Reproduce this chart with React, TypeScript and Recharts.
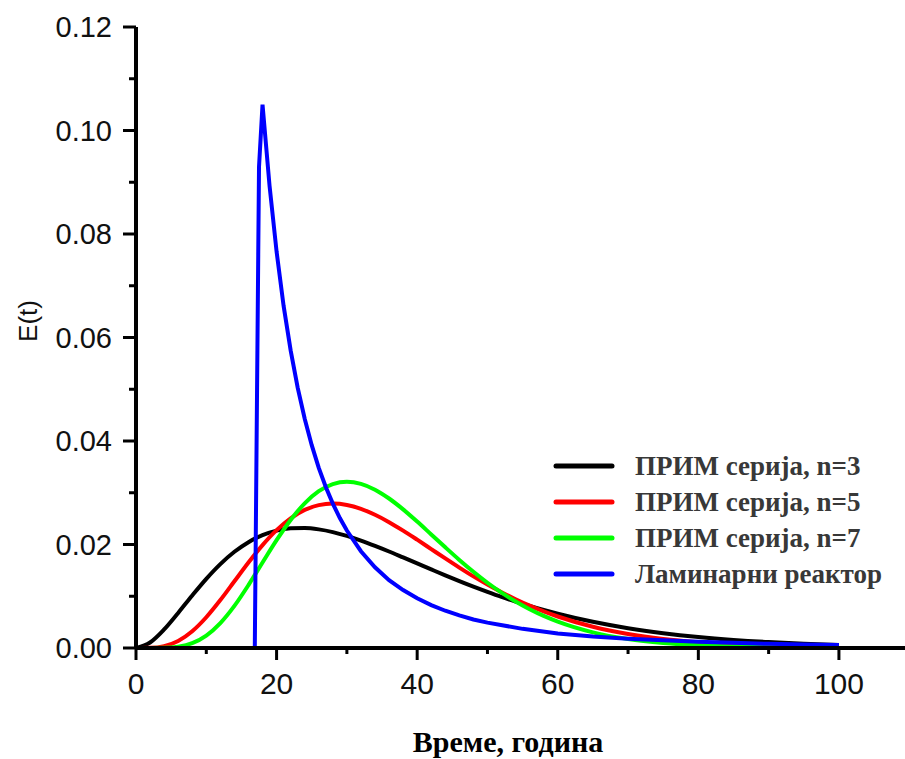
import { LineChart, Line, XAxis, YAxis, Legend, Label } from "recharts";

// time axis (hours) and E(t) values
const tTanks = [
  0, 2, 4, 6, 8, 10, 12, 14, 16, 18, 20, 22, 24, 26, 28, 30, 32, 34, 36, 38, 40,
  42, 44, 46, 48, 50, 52, 54, 56, 58, 60, 65, 70, 75, 80, 85, 90, 95, 100,
];
const eN3 = [
  0, 0.00106, 0.00358, 0.00678, 0.01015, 0.01336, 0.01621, 0.01859, 0.02045,
  0.02181, 0.02268, 0.02312, 0.02318, 0.02292, 0.0224, 0.02166, 0.02076,
  0.01974, 0.01865, 0.0175, 0.01634, 0.01518, 0.01403, 0.01292, 0.01185,
  0.01084, 0.00987, 0.00897, 0.00813, 0.00734, 0.00662, 0.00506, 0.00382,
  0.00286, 0.00212, 0.00156, 0.00114, 0.00083, 0.0006,
];
const eN5 = [
  0, 0.00003, 0.00036, 0.00136, 0.00324, 0.00594, 0.00926, 0.01289, 0.01652,
  0.01989, 0.02278, 0.02506, 0.02668, 0.02761, 0.02791, 0.02764, 0.02689,
  0.02575, 0.02432, 0.02269, 0.02093, 0.01912, 0.01731, 0.01554, 0.01384,
  0.01225, 0.01077, 0.00941, 0.00818, 0.00707, 0.00609, 0.00411, 0.0027,
  0.00174, 0.00111, 0.00069, 0.00042, 0.00026, 0.00016,
];
const eN7 = [
  0, 0.000001, 0.00003, 0.00025, 0.00094, 0.00241, 0.00482, 0.00814, 0.01216,
  0.01652, 0.02084, 0.02475, 0.02796, 0.0303, 0.03168, 0.03213, 0.03172,
  0.03059, 0.02889, 0.02679, 0.02443, 0.02194, 0.01945, 0.01702, 0.01473,
  0.01261, 0.0107, 0.00899, 0.0075, 0.0062, 0.0051, 0.00303, 0.00174, 0.00097,
  0.00052, 0.00028, 0.00014, 0.00007, 0.00004,
];

const tLaminar = [
  0, 16.9, 17.5, 18, 19, 20, 21, 22, 23, 24, 25, 26, 27, 28, 29, 30, 32, 34,
  36, 38, 40, 42, 44, 46, 48, 50, 55, 60, 65, 70, 75, 80, 85, 90, 95, 100,
];
const eLaminar = [
  0, 0, 0.093, 0.105, 0.0893, 0.0766, 0.0661, 0.0575, 0.0503, 0.0443, 0.0392,
  0.0348, 0.0311, 0.0279, 0.0251, 0.0227, 0.0187, 0.0156, 0.0131, 0.0112,
  0.0096, 0.0083, 0.0072, 0.0063, 0.0055, 0.0049, 0.0037, 0.0028, 0.0022,
  0.0018, 0.0015, 0.0012, 0.001, 0.0008, 0.0007, 0.0006,
];

const xTicks = [0, 10, 20, 30, 40, 50, 60, 70, 80, 90, 100];
const yTicks = [0, 0.01, 0.02, 0.03, 0.04, 0.05, 0.06, 0.07, 0.08, 0.09, 0.1, 0.11, 0.12];

const seriesNames = [
  "ПРИМ серија, n=3",
  "ПРИМ серија, n=5",
  "ПРИМ серија, n=7",
  "Ламинарни реактор",
];
const seriesColors = ["#000000", "#ff0000", "#00ff00", "#0000ff"];

const zip = (xs: number[], ys: number[]) => xs.map((t, i) => ({ t, e: ys[i] }));

const n3Data = zip(tTanks, eN3);
const n5Data = zip(tTanks, eN5);
const n7Data = zip(tTanks, eN7);
const laminarData = zip(tLaminar, eLaminar);

const sans = "'Liberation Sans', Arial, sans-serif";
const serif = "'Liberation Serif', 'Times New Roman', serif";

const YTick = (props: any) => {
  const { x, y, payload } = props;
  const v = payload.value as number;
  const major = Math.round(v * 100) % 2 === 0;
  return (
    <g>
      <line x1={x - (major ? 13 : 7)} x2={x} y1={y} y2={y} stroke="#000" strokeWidth={3} />
      {major && (
        <text x={x - 24} y={y} dy="0.36em" textAnchor="end" fontSize={29} fontFamily={sans} fill="#111">
          {v.toFixed(2)}
        </text>
      )}
    </g>
  );
};

const XTick = (props: any) => {
  const { x, y, payload } = props;
  const v = payload.value as number;
  const major = v % 20 === 0;
  return (
    <g>
      <line x1={x} x2={x} y1={y} y2={y + (major ? 12 : 6)} stroke="#000" strokeWidth={3} />
      {major && (
        <text x={x} y={y + 46} textAnchor="middle" fontSize={30} fontFamily={sans} fill="#111">
          {v}
        </text>
      )}
    </g>
  );
};

const LegendBox = (props: any) => {
  const items = [...(props.payload || [])].sort(
    (a: any, b: any) => seriesNames.indexOf(a.value) - seriesNames.indexOf(b.value)
  );
  return (
    <div>
      {items.map((it: any) => (
        <div key={it.value} style={{ display: "flex", alignItems: "center", height: 36 }}>
          <svg width={62} height={8} style={{ marginRight: 20 }}>
            <line x1={3} x2={59} y1={4} y2={4} stroke={it.color} strokeWidth={5} strokeLinecap="round" />
          </svg>
          <span
            style={{
              fontFamily: serif,
              fontWeight: "bold",
              fontSize: 27,
              color: "#383838",
              whiteSpace: "nowrap",
            }}
          >
            {it.value}
          </span>
        </div>
      ))}
    </div>
  );
};

export default function App() {
  return (
    <div style={{ position: "absolute", left: 0, top: 0, width: 905, height: 759, background: "#fff" }}>
      <LineChart width={905} height={759} margin={{ top: 27, right: 0, bottom: 0, left: 0 }}>
        <XAxis
          xAxisId="top"
          orientation="top"
          type="number"
          domain={[0, 109.4]}
          height={0}
          tick={false}
          tickLine={false}
          axisLine={{ stroke: "#000", strokeWidth: 4 }}
        />
        <XAxis
          dataKey="t"
          type="number"
          domain={[0, 109.4]}
          allowDataOverflow
          ticks={xTicks}
          interval={0}
          height={111}
          tickSize={0}
          tickMargin={0}
          tickLine={false}
          tick={<XTick />}
          axisLine={{ stroke: "#000", strokeWidth: 4 }}
        >
          <Label
            content={() => (
              <text x={508} y={752} textAnchor="middle" fontFamily={serif} fontWeight="bold" fontSize={30} fill="#000">
                Време, година
              </text>
            )}
          />
        </XAxis>
        <YAxis
          type="number"
          domain={[0, 0.12]}
          ticks={yTicks}
          interval={0}
          width={136}
          tickSize={0}
          tickMargin={0}
          tickLine={false}
          tick={<YTick />}
          axisLine={{ stroke: "#000", strokeWidth: 4 }}
        >
          <Label
            content={() => (
              <text
                transform="translate(28, 321) rotate(-90)"
                textAnchor="middle"
                dy="0.36em"
                fontFamily={sans}
                fontSize={26}
                fill="#111"
              >
                E(t)
              </text>
            )}
          />
        </YAxis>
        <Legend
          layout="vertical"
          align="center"
          verticalAlign="middle"
          content={<LegendBox />}
          wrapperStyle={{ left: 553, top: 448, width: 352, height: 144 }}
        />
        <Line data={n3Data} dataKey="e" name={seriesNames[0]} type="monotone" stroke={seriesColors[0]} strokeWidth={4} dot={false} isAnimationActive={false} />
        <Line data={n5Data} dataKey="e" name={seriesNames[1]} type="monotone" stroke={seriesColors[1]} strokeWidth={4} dot={false} isAnimationActive={false} />
        <Line data={n7Data} dataKey="e" name={seriesNames[2]} type="monotone" stroke={seriesColors[2]} strokeWidth={4} dot={false} isAnimationActive={false} />
        <Line data={laminarData} dataKey="e" name={seriesNames[3]} type="linear" stroke={seriesColors[3]} strokeWidth={4} dot={false} isAnimationActive={false} />
      </LineChart>
    </div>
  );
}
